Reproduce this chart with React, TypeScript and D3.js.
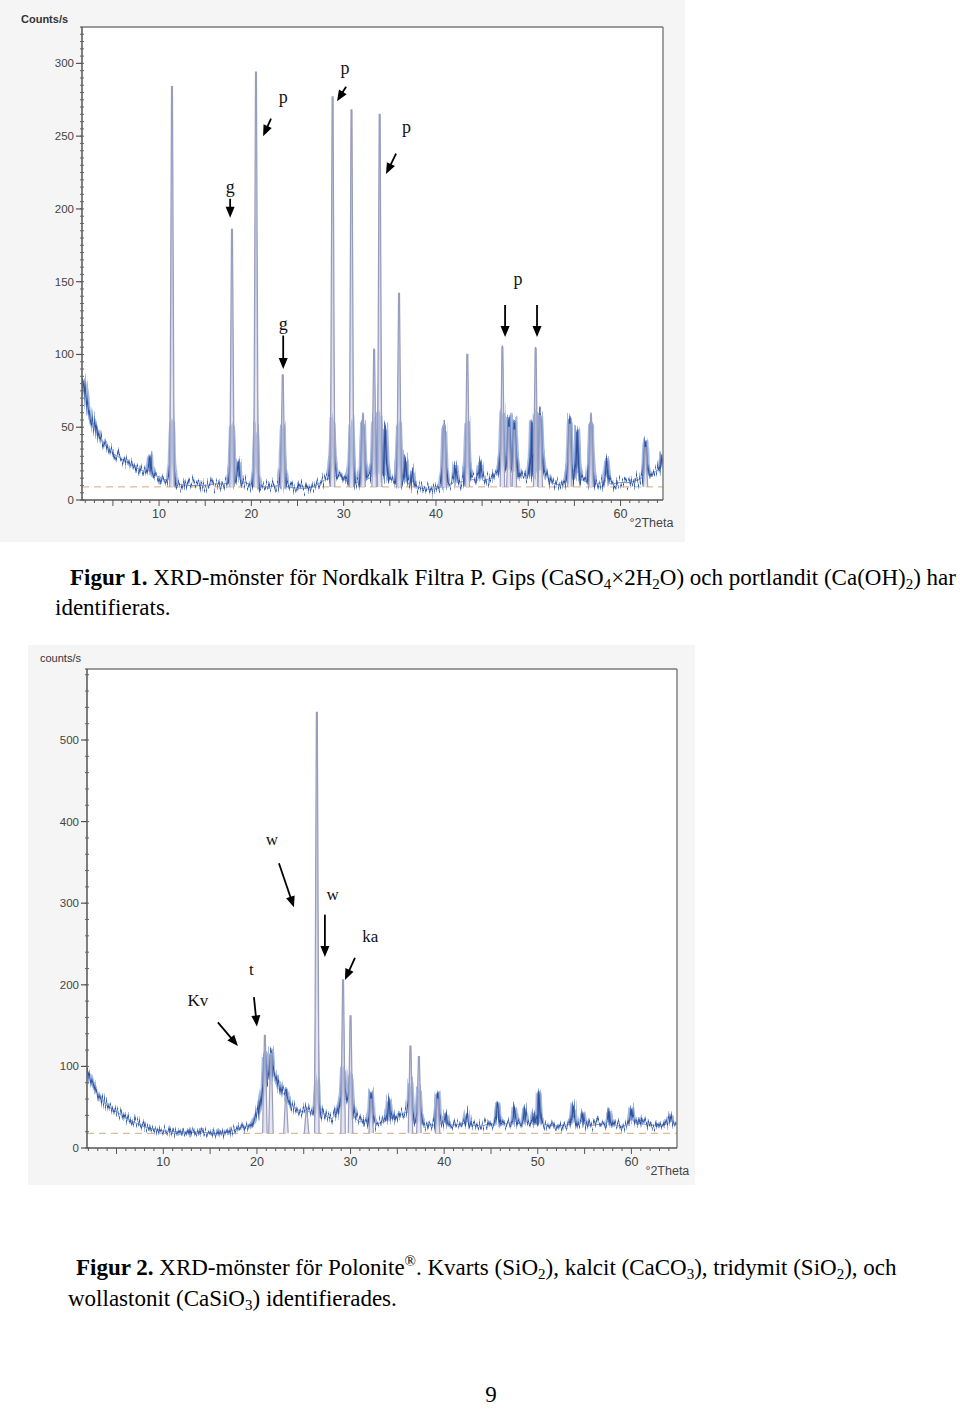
import React from "react";
import * as d3 from "d3";

type Pt = [number, number];

// ---------- Figur 1 (Nordkalk Filtra P) ----------
const fig1Background: Pt[] = [
  [1.7, 84], [2.0, 74], [2.3, 64], [2.6, 57], [3.0, 50], [3.5, 44], [4.0, 39], [4.5, 35],
  [5.0, 32], [5.5, 30], [6.0, 28], [6.5, 26], [7.0, 24], [7.5, 22], [8.0, 21], [8.5, 19],
  [9.0, 18], [9.5, 17], [10.0, 16], [10.5, 14], [11.0, 14], [12.0, 11], [13.0, 10], [14.0, 10],
  [15.0, 10], [16.0, 11], [17.0, 11], [18.5, 14], [19.0, 13], [20.0, 10], [21.0, 9], [22.0, 9],
  [23.0, 10], [24.0, 9], [25.0, 8], [26.0, 8], [27.0, 10], [28.0, 14], [29.5, 17], [30.3, 13],
  [31.5, 12], [32.5, 14], [33.6, 18], [34.8, 16], [35.5, 14], [36.5, 12], [37.5, 10], [38.5, 8],
  [39.5, 7], [40.5, 9], [41.5, 11], [42.5, 12], [43.0, 13], [44.0, 14], [45.0, 13], [46.0, 15],
  [46.8, 20], [47.8, 24], [48.8, 20], [49.5, 16], [50.2, 18], [51.8, 20], [52.5, 12], [53.5, 10],
  [54.2, 14], [55.8, 14], [56.5, 12], [57.5, 11], [58.0, 12], [59.0, 11], [60.0, 12], [61.0, 12],
  [62.0, 14], [63.0, 17], [64.0, 20], [64.6, 24],
];
const fig1Peaks: Pt[] = [
  [9.0, 30], [11.4, 283], [17.9, 185], [18.6, 26], [20.5, 293], [23.4, 85], [28.8, 276],
  [30.85, 267], [32.1, 60], [33.3, 104], [33.9, 264], [34.5, 50], [36.0, 142], [36.7, 29],
  [37.4, 20], [40.9, 55], [42.1, 24], [43.4, 100], [44.8, 25], [47.2, 106], [47.9, 57],
  [48.5, 55], [50.4, 52], [50.8, 105], [51.3, 64], [54.5, 58], [55.3, 48], [56.8, 60],
  [58.5, 27], [62.7, 40], [64.5, 31],
];
const fig1Fitted: Pt[] = [
  [11.4, 284], [17.9, 186], [20.5, 294], [23.4, 86], [28.8, 277], [30.85, 268], [32.1, 58],
  [33.3, 103], [33.9, 265], [36.0, 142], [40.9, 52], [43.4, 100], [47.2, 105], [47.9, 50],
  [48.5, 48], [50.8, 104], [51.3, 58], [54.5, 52], [56.8, 58], [62.7, 36],
];
const fig1YTicks = [0, 50, 100, 150, 200, 250, 300];
const fig1XTicks = [10, 20, 30, 40, 50, 60];
const fig1Labels = [
  { text: "g", t: 17.7, c: 211 },
  { text: "p", t: 23.45, c: 273 },
  { text: "p", t: 30.15, c: 293 },
  { text: "p", t: 36.8, c: 252 },
  { text: "g", t: 23.45, c: 117 },
  { text: "p", t: 48.9, c: 148 },
];
const fig1Arrows = [
  { t1: 17.7, c1: 207, t2: 17.7, c2: 194 },
  { t1: 22.13, c1: 262, t2: 21.27, c2: 250 },
  { t1: 30.26, c1: 284, t2: 29.28, c2: 274 },
  { t1: 35.68, c1: 238, t2: 34.59, c2: 224 },
  { t1: 23.45, c1: 113, t2: 23.45, c2: 90 },
  { t1: 47.49, c1: 134, t2: 47.49, c2: 112 },
  { t1: 50.95, c1: 134, t2: 50.95, c2: 112 },
];

// ---------- Figur 2 (Polonite) ----------
const fig2Background: Pt[] = [
  [1.9, 93], [2.3, 80], [2.8, 70], [3.3, 62], [4.0, 52], [5.0, 44], [6.0, 37], [7.0, 31],
  [8.0, 26], [9.0, 23], [10.0, 21], [11.0, 20], [12.0, 20], [13.0, 19], [14.0, 20], [15.0, 18],
  [16.0, 18], [17.0, 20], [18.0, 24], [19.0, 27], [19.5, 30], [20.0, 42], [20.5, 62], [21.0, 80],
  [21.5, 95], [22.0, 88], [22.5, 72], [23.0, 62], [23.5, 56], [24.0, 50], [24.5, 46], [25.0, 44],
  [25.5, 45], [26.0, 40], [27.0, 44], [27.5, 38], [28.0, 36], [28.5, 42], [29.0, 55], [29.5, 62],
  [30.0, 50], [30.5, 36], [31.0, 32], [32.0, 32], [33.0, 30], [34.0, 34], [35.0, 38], [35.5, 42],
  [36.0, 44], [36.5, 40], [37.0, 32], [38.0, 28], [39.0, 28], [40.0, 30], [41.0, 28], [42.0, 30],
  [43.0, 28], [44.0, 27], [45.0, 30], [46.0, 28], [47.0, 31], [48.0, 30], [49.0, 30], [50.0, 32],
  [51.0, 28], [52.0, 27], [53.0, 28], [54.0, 30], [55.0, 28], [56.0, 28], [57.0, 30], [58.0, 29],
  [59.0, 26], [60.0, 32], [61.0, 30], [62.0, 28], [63.0, 28], [64.0, 30], [64.8, 30],
];
const fig2Peaks: Pt[] = [
  [20.85, 138], [21.5, 116], [23.1, 71], [25.3, 50], [26.4, 534], [29.2, 206], [30.0, 162],
  [32.2, 69], [34.1, 59], [36.4, 125], [37.3, 112], [39.3, 67], [40.2, 43], [42.4, 43],
  [45.7, 53], [47.5, 50], [48.6, 49], [49.6, 43], [50.1, 67], [53.8, 53], [54.8, 43],
  [57.6, 44], [60.0, 48], [64.2, 39],
];
const fig2Fitted: Pt[] = [
  [20.85, 138], [21.5, 116], [23.1, 62], [25.3, 46], [26.4, 534], [29.2, 206], [30.0, 162],
  [32.2, 60], [36.4, 125], [37.3, 112], [39.3, 60],
];
const fig2YTicks = [0, 100, 200, 300, 400, 500];
const fig2XTicks = [10, 20, 30, 40, 50, 60];
const fig2Labels = [
  { text: "w", t: 21.6, c: 371 },
  { text: "w", t: 28.1, c: 304 },
  { text: "ka", t: 32.1, c: 252 },
  { text: "t", t: 19.4, c: 212 },
  { text: "Kv", t: 13.7, c: 174 },
];
const fig2Arrows = [
  { t1: 22.35, c1: 349, t2: 23.95, c2: 295 },
  { t1: 27.26, c1: 286, t2: 27.26, c2: 234 },
  { t1: 30.47, c1: 233, t2: 29.4, c2: 206 },
  { t1: 19.68, c1: 185, t2: 20.0, c2: 149 },
  { t1: 15.83, c1: 154, t2: 17.97, c2: 125 },
];

interface Cfg {
  id: string;
  xDomain: [number, number];
  xRange: [number, number];
  yDomain: [number, number];
  yRange: [number, number];
  yTicks: number[];
  yMinor: number;
  xTicks: number[];
  background: Pt[];
  peaks: Pt[];
  fitted: Pt[];
  baseline: number;
  labels: { text: string; t: number; c: number }[];
  arrows: { t1: number; c1: number; t2: number; c2: number }[];
  yTitle: string;
  yTitleBold: boolean;
  yTitleDx: number;
  yTitleDy: number;
  xTitleDx: number;
  bg: [number, number, number, number];
  noise: number;
  letterSize: number;
  baseCap: number;
}

function makeBgAt(bg: Pt[]) {
  return (t: number) => {
    const i = d3.bisector((d: Pt) => d[0]).left(bg, t);
    if (i <= 0) return bg[0][1];
    if (i >= bg.length) return bg[bg.length - 1][1];
    const a = bg[i - 1], b = bg[i];
    return a[1] + ((b[1] - a[1]) * (t - a[0])) / (b[0] - a[0]);
  };
}

// measured trace: background with the read peaks inserted; cap limits the
// drawn height (used for the wide noise band that only broadens peak bases)
function buildTrace(bg: Pt[], peaks: Pt[], hw: number, cap = Infinity): Pt[] {
  const bgAt = makeBgAt(bg);
  const pts: Pt[] = bg.filter(([t]) => !peaks.some(([p]) => Math.abs(t - p) < hw));
  peaks.forEach(([p, h0]) => {
    const b0 = bgAt(p - hw), b1 = bgAt(p + hw);
    const h = Math.min(h0, bgAt(p) + cap);
    pts.push([p - hw, b0], [p - hw * 0.35, b0 + (h - b0) * 0.3], [p, h], [p + hw * 0.35, b1 + (h - b1) * 0.3], [p + hw, b1]);
  });
  pts.sort((a, b) => a[0] - b[0]);
  return pts;
}

function arrowShape(x1: number, y1: number, x2: number, y2: number, L = 11, Wd = 9) {
  const dx = x2 - x1, dy = y2 - y1;
  const len = Math.hypot(dx, dy);
  const ux = dx / len, uy = dy / len;
  const bx = x2 - ux * L, by = y2 - uy * L;
  const nx = -uy, ny = ux;
  return {
    line: [x1, y1, bx + ux * 1, by + uy * 1],
    head: `${x2},${y2} ${bx + (nx * Wd) / 2},${by + (ny * Wd) / 2} ${bx - (nx * Wd) / 2},${by - (ny * Wd) / 2}`,
  };
}

const SANS = "Arial, 'Liberation Sans', Helvetica, sans-serif";
const SERIF = "'Times New Roman', 'Liberation Serif', Times, serif";

function XRDChart({ cfg }: { cfg: Cfg }) {
  const x = d3.scaleLinear().domain(cfg.xDomain).range(cfg.xRange);
  const y = d3.scaleLinear().domain(cfg.yDomain).range(cfg.yRange);
  const [x0, x1] = cfg.xRange;
  const [yb, yt] = cfg.yRange;
  const fullTrace = buildTrace(cfg.background, cfg.peaks, 0.3);
  const bandTrace = buildTrace(cfg.background, cfg.peaks, 0.4, cfg.baseCap);
  const line = d3.line<Pt>().x((d) => x(d[0])).y((d) => y(d[1]));
  const minorY = d3.range(0, cfg.yDomain[1], cfg.yMinor);
  const minorX = d3.range(Math.ceil(cfg.xDomain[0]), cfg.xDomain[1], 1);
  const fid = `noise-${cfg.id}`;
  const fullPath = line(fullTrace) || "";
  const bandPath = line(bandTrace) || "";
  return (
    <g>
      <rect x={cfg.bg[0]} y={cfg.bg[1]} width={cfg.bg[2]} height={cfg.bg[3]} fill="#f5f5f5" />
      <rect x={x0} y={yt} width={x1 - x0} height={yb - yt} fill="#ffffff" />
      <defs>
        <filter id={fid} filterUnits="userSpaceOnUse" x={x0 - 5} y={yt - 10} width={x1 - x0 + 10} height={yb - yt + 20} colorInterpolationFilters="sRGB">
          <feTurbulence type="fractalNoise" baseFrequency="0.9 0.03" numOctaves={2} seed={4} result="turb" />
          <feColorMatrix in="turb" type="matrix" values="0 0 0 0 0.5  0 1 0 0 0  0 0 1 0 0  0 0 0 0 1" result="turb2" />
          <feDisplacementMap in="SourceGraphic" in2="turb2" scale={cfg.noise} xChannelSelector="R" yChannelSelector="G" />
        </filter>
        <clipPath id={`clip-${cfg.id}`}>
          <rect x={x0} y={yt} width={x1 - x0} height={yb - yt} />
        </clipPath>
      </defs>
      <g clipPath={`url(#clip-${cfg.id})`}>
        {/* dashed baseline of the fitted pattern */}
        <line x1={x0} x2={x1} y1={y(cfg.baseline)} y2={y(cfg.baseline)} stroke="#d6a878" strokeWidth={1} strokeDasharray="7 5" />
        {/* measured noisy data */}
        <path d={fullPath} fill="none" stroke="#7088c4" strokeWidth={1} strokeOpacity={0.9} strokeLinejoin="round" />
        <g filter={`url(#${fid})`}>
          <path d={bandPath} fill="none" stroke="#7f9bd3" strokeWidth={6} strokeOpacity={0.7} strokeLinejoin="round" />
          <path d={bandPath} fill="none" stroke="#5878bd" strokeWidth={3} strokeOpacity={0.8} strokeLinejoin="round" />
          <path d={bandPath} fill="none" stroke="#2f4f96" strokeWidth={1.1} strokeLinejoin="round" />
        </g>
        {/* fitted profile peaks */}
        {cfg.fitted.map(([p, h], i) => (
          <path
            key={i}
            d={`M${x(p - 0.24)},${y(cfg.baseline)}L${x(p - 0.05)},${y(h)}L${x(p + 0.05)},${y(h)}L${x(p + 0.24)},${y(cfg.baseline)}`}
            fill="#dcdcec"
            fillOpacity={0.75}
            stroke="#9a9cbc"
            strokeWidth={1.2}
          />
        ))}
      </g>
      {/* frame */}
      <line x1={x0 - 2} x2={x1} y1={yt} y2={yt} stroke="#7a7a7a" strokeWidth={1.4} />
      <line x1={x1} x2={x1} y1={yt} y2={yb} stroke="#7a7a7a" strokeWidth={1.4} />
      {/* y axis */}
      <line x1={x0} x2={x0} y1={yt} y2={yb} stroke="#555" strokeWidth={1.5} />
      {minorY.map((v) => (
        <line key={`ym${v}`} x1={x0 - 2} x2={x0 + 2} y1={y(v)} y2={y(v)} stroke="#666" strokeWidth={1} />
      ))}
      {cfg.yTicks.map((v) => (
        <g key={`y${v}`}>
          <line x1={x0 - 6} x2={x0} y1={y(v)} y2={y(v)} stroke="#555" strokeWidth={1.2} />
          <text x={x0 - 8} y={y(v) + 4} textAnchor="end" fontFamily={SANS} fontSize={11.5} fill="#444">
            {v}
          </text>
        </g>
      ))}
      {/* x axis */}
      <line x1={x0} x2={x1} y1={yb} y2={yb} stroke="#555" strokeWidth={1.5} />
      {minorX.map((v) => (
        <line key={`xm${v}`} x1={x(v)} x2={x(v)} y1={yb} y2={yb + (v % 5 === 0 ? 6 : 3)} stroke="#555" strokeWidth={1} />
      ))}
      {cfg.xTicks.map((v) => (
        <text key={`x${v}`} x={x(v)} y={yb + 18} textAnchor="middle" fontFamily={SANS} fontSize={12.5} fill="#444">
          {v}
        </text>
      ))}
      <text x={x(60) + cfg.xTitleDx} y={yb + 27} fontFamily={SANS} fontSize={12.5} fill="#444">
        °2Theta
      </text>
      <text x={x0 + cfg.yTitleDx} y={yt + cfg.yTitleDy} fontFamily={SANS} fontSize={11} fontWeight={cfg.yTitleBold ? "bold" : "normal"} fill="#333">
        {cfg.yTitle}
      </text>
      {/* annotations */}
      {cfg.labels.map((l, i) => (
        <text key={`l${i}`} x={x(l.t)} y={y(l.c)} textAnchor="middle" fontFamily={SERIF} fontSize={cfg.letterSize} fill="#111">
          {l.text}
        </text>
      ))}
      {cfg.arrows.map((a, i) => {
        const s = arrowShape(x(a.t1), y(a.c1), x(a.t2), y(a.c2));
        return (
          <g key={`a${i}`}>
            <line x1={s.line[0]} y1={s.line[1]} x2={s.line[2]} y2={s.line[3]} stroke="#000" strokeWidth={1.8} />
            <polygon points={s.head} fill="#000" />
          </g>
        );
      })}
    </g>
  );
}

const cfg1: Cfg = {
  id: "f1",
  xDomain: [1.65, 64.6],
  xRange: [82, 663],
  yDomain: [0, 325],
  yRange: [500, 27],
  yTicks: fig1YTicks,
  yMinor: 5,
  xTicks: fig1XTicks,
  background: fig1Background,
  peaks: fig1Peaks,
  fitted: fig1Fitted,
  baseline: 9,
  labels: fig1Labels,
  arrows: fig1Arrows,
  yTitle: "Counts/s",
  yTitleBold: true,
  yTitleDx: -61,
  yTitleDy: -4,
  xTitleDx: 9,
  bg: [0, 0, 685, 542],
  noise: 24,
  letterSize: 18,
  baseCap: 40,
};

const cfg2: Cfg = {
  id: "f2",
  xDomain: [1.85, 64.87],
  xRange: [87, 677],
  yDomain: [0, 587],
  yRange: [1148, 669],
  yTicks: fig2YTicks,
  yMinor: 20,
  xTicks: fig2XTicks,
  background: fig2Background,
  peaks: fig2Peaks,
  fitted: fig2Fitted,
  baseline: 18,
  labels: fig2Labels,
  arrows: fig2Arrows,
  yTitle: "counts/s",
  yTitleBold: false,
  yTitleDx: -47,
  yTitleDy: -7,
  xTitleDx: 14,
  bg: [28, 645, 667, 540],
  noise: 20,
  letterSize: 17,
  baseCap: 40,
};

const SUB = 15;

export default function App() {
  return (
    <svg width={960} height={1409} style={{ position: "absolute", left: 0, top: 0, display: "block", background: "#fff" }}>
      <rect width={960} height={1409} fill="#fff" />
      <XRDChart cfg={cfg1} />
      <XRDChart cfg={cfg2} />
      {/* captions */}
      <g fontFamily={SERIF} fontSize={23} fill="#000">
        <text x={70} y={585}>
          <tspan fontWeight="bold">Figur 1.</tspan>
          <tspan> XRD-mönster för Nordkalk Filtra P. Gips (CaSO</tspan>
          <tspan fontSize={SUB} dy={4}>4</tspan>
          <tspan dy={-4}>×2H</tspan>
          <tspan fontSize={SUB} dy={4}>2</tspan>
          <tspan dy={-4}>O) och portlandit (Ca(OH)</tspan>
          <tspan fontSize={SUB} dy={4}>2</tspan>
          <tspan dy={-4}>) har</tspan>
        </text>
        <text x={55} y={615}>identifierats.</text>
        <text x={76} y={1275}>
          <tspan fontWeight="bold">Figur 2.</tspan>
          <tspan> XRD-mönster för Polonite</tspan>
          <tspan fontSize={SUB} dy={-9}>®</tspan>
          <tspan dy={9}>. Kvarts (SiO</tspan>
          <tspan fontSize={SUB} dy={4}>2</tspan>
          <tspan dy={-4}>), kalcit (CaCO</tspan>
          <tspan fontSize={SUB} dy={4}>3</tspan>
          <tspan dy={-4}>), tridymit (SiO</tspan>
          <tspan fontSize={SUB} dy={4}>2</tspan>
          <tspan dy={-4}>), och</tspan>
        </text>
        <text x={68} y={1306}>
          <tspan>wollastonit (CaSiO</tspan>
          <tspan fontSize={SUB} dy={4}>3</tspan>
          <tspan dy={-4}>) identifierades.</tspan>
        </text>
        <text x={491} y={1402} textAnchor="middle">9</text>
      </g>
    </svg>
  );
}
